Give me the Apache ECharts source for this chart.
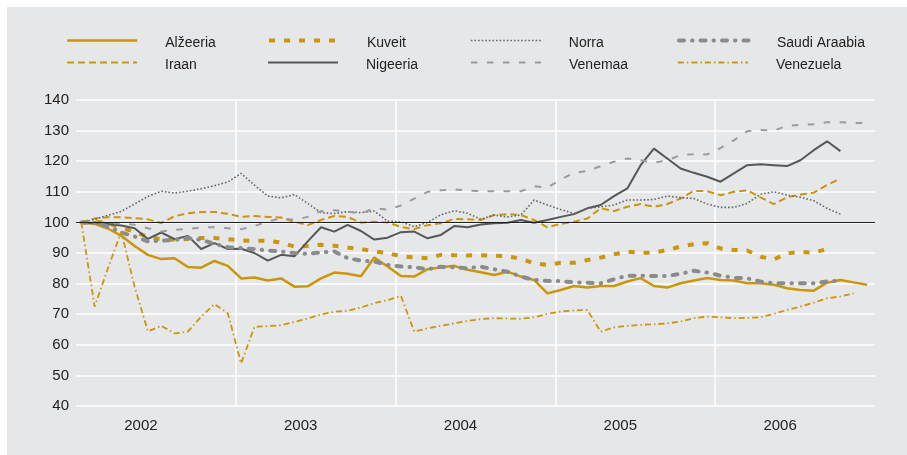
<!DOCTYPE html>
<html>
<head>
<meta charset="utf-8">
<script src="https://cdn.jsdelivr.net/npm/echarts@6/dist/echarts.min.js"></script>
<style>
body { margin: 0; background: #fff; }
#bg { position: absolute; left: 7px; top: 7px; width: 900px; height: 448px; background: #e6e7e9; }
#chart { position: absolute; left: 0; top: 0; width: 907px; height: 455px; }
</style>
</head>
<body>
<div id="bg"></div>
<div id="chart"></div>
<script>
// Data: monthly index, Jan 2002 = 100
// ----------
var years = ['2002', '2003', '2004', '2005', '2006']

var algeria = [100, 99.5, 98, 95.6, 92.3, 89.4, 88, 88.3, 85.4, 85.2, 87.4, 85.8,
    81.7, 82, 81, 81.7, 79, 79.1, 81.7, 83.6, 83.2, 82.4, 88.5, 85.6,
    82.5, 82.3, 84.7, 85.3, 85.8, 84.5, 83.7, 82.8, 83.9, 82.3, 81.2, 76.8,
    77.9, 79.2, 78.7, 79.2, 79.2, 80.7, 81.8, 79.2, 78.7, 80.1, 81, 81.8,
    81.2, 81, 80.1, 80.1, 79.6, 78.5, 77.9, 77.7, 80.3, 81.2, 80.4, 79.6]

var iran = [100, 101.3, 101.7, 101.7, 101.4, 101, 99.8, 102, 103, 103.4, 103.4, 102.8,
    101.8, 102.1, 101.8, 101.6, 100.2, 99.1, 100.8, 102.1, 101.8, 99.9, 100.2, 100,
    98.5, 97.8, 99.1, 99.7, 101.1, 101, 100.8, 102.4, 102.7, 102.4, 100.8, 98.4,
    99.5, 100.2, 101.3, 104.6, 103.7, 105.1, 106, 105.1, 106, 107.8, 110.3, 110.2,
    108.9, 110, 110.5, 108.2, 106, 108.2, 109.1, 109.7, 112.2, 114.3, null, null]

var kuwait = [100, 100.3, 99.8, 98.1, 97, 95.2, 94.5, 94.3, 94.6, 94.9, 94.9, 94.5,
    94.1, 94, 94, 93.4, 92.1, 92.3, 92.7, 92.4, 91.8, 91.3, 90.5, 90,
    88.9, 88.6, 88.3, 89.4, 89.3, 89.2, 89.3, 89.1, 88.9, 88.2, 86.6, 86.1,
    86.8, 86.8, 87.7, 88.5, 89.6, 90.4, 90.1, 90.1, 91, 92.1, 92.9, 93.2,
    91.5, 91, 90.8, 88.8, 87.9, 89.9, 90.4, 90.1, 91.3, null, null, null]

var nigeria = [100, 99.8, 99.5, 99, 98.1, 94.6, 96.7, 94.5, 95.6, 91.3, 93.2, 91.3,
    91.4, 90, 87.5, 89.4, 88.9, 93.8, 98.4, 97, 99.2, 97.2, 94.4, 95,
    96.8, 97, 94.8, 95.9, 98.8, 98.4, 99.3, 99.7, 99.9, 100.8, 99.9, 100.8,
    101.8, 102.7, 104.6, 105.7, 108.6, 111.1, 118.7, 124.1, 120.9, 117.6, 116.2, 114.9,
    113.3, 116, 118.7, 119, 118.7, 118.4, 120.3, 123.6, 126.5, 123.3, null, null]

var norway = [100, 101, 102.3, 103.6, 106, 108.5, 110.2, 109.6, 110.2, 111, 112, 113.2,
    116, 112.2, 108.6, 108, 109.1, 106.2, 103.2, 102.9, 103.5, 103.2, 103.7, 100.4,
    100.2, 98.6, 100, 102.5, 103.8, 103, 101, 102.4, 101.8, 102.4, 107.3, 105.7,
    104.2, 102.9, 104.6, 105.1, 105.7, 107.3, 107.3, 107.5, 108.6, 108.1, 107.8, 106,
    104.9, 104.9, 106.2, 109.2, 110, 108.9, 108.2, 107.1, 104.6, 102.7, null, null]

var russia = [100, 100, 99.8, 99.6, 99.2, 98.1, 97, 97.6, 97.8, 98.4, 98.4, 98.1,
    97.8, 98.8, 100.3, 101.3, 100.8, 101.8, 103.7, 104, 103.5, 102.9, 104.6, 104.2,
    105.5, 107.8, 110, 110.5, 110.8, 110.4, 110.2, 110.2, 110.2, 110.2, 111.8, 111.4,
    114, 116.2, 116.8, 118.4, 119.8, 120.9, 120.3, 119.5, 120.3, 122, 122.3, 122.2,
    124.3, 126.8, 129.8, 130.2, 130, 131.6, 131.9, 132.1, 132.7, 132.7, 132.5, 132.5]

var saudi = [100, 99.8, 98.7, 96.7, 95.4, 93.8, 94, 94.3, 94.9, 94.3, 93, 91.9,
    91.6, 91.3, 90.8, 90.5, 90, 89.7, 90.2, 90.5, 88.3, 87.5, 87.2, 86.1,
    85.6, 85.3, 84.7, 85.5, 85.3, 85, 85.5, 84.7, 83.9, 82.3, 81.2, 80.9,
    80.8, 80.4, 80.3, 80.1, 81.4, 82.6, 82.6, 82.5, 82.5, 83.2, 84.2, 83.6,
    82.6, 81.9, 81.7, 80.7, 80.1, 80.1, 80.1, 80.1, 80.7, 81, null, null]

var venezuela = [100, 72.5, 85, 97, 79, 64.4, 66.2, 63.7, 64.3, 69.2, 73.3, 70.3,
    53.9, 65.9, 66.1, 66.4, 67.5, 68.6, 69.9, 70.8, 71.1, 72.2, 73.6, 74.6,
    76, 64.3, 65.4, 66.2, 67, 67.8, 68.4, 68.7, 68.6, 68.5, 69, 70.1,
    70.9, 71.2, 71.4, 64.3, 65.7, 66.2, 66.5, 66.7, 67, 67.6, 68.7, 69.2,
    69, 68.7, 68.8, 69, 70.1, 71.4, 72.5, 73.8, 75.2, 75.8, 76.8, null]

var GOLD = '#c9960c'
var FONT = '"Liberation Sans", Arial, sans-serif'

// pair each value with its month position on the value axis (0..60)
function toPoints(values) {
    var out = []
    for (var i = 0; i < values.length; i++) {
        if (values[i] != null) out.push([i + 0.4, values[i]])
    }
    return out
}

function lineSeries(name, values, color, width, type, cap) {
    return {
        name: name,
        type: 'line',
        xAxisIndex: 0,
        data: toPoints(values),
        symbol: 'none',
        showSymbol: false,
        smooth: false,
        emphasis: { disabled: true },
        lineStyle: { color: color, width: width, type: type, cap: cap || 'butt' },
        itemStyle: { color: color }
    }
}

// one legend block per entry so the 2x4 column layout can be placed exactly
// (empty first rich line pushes the label a few px below the sample line)
function legendItem(name, left, top) {
    return {
        data: [name],
        left: left,
        top: top,
        padding: 0,
        itemWidth: 70,
        itemHeight: 14,
        selectedMode: false,
        itemStyle: { opacity: 0 },
        lineStyle: { width: 'inherit' },
        formatter: function (n) { return '{s|}\n{t|' + n + '}' },
        textStyle: {
            fontSize: 14,
            color: '#222',
            fontFamily: FONT,
            padding: [0, 0, 0, 23],
            rich: {
                s: { lineHeight: 6, height: 6 },
                t: { lineHeight: 17, fontSize: 14, color: '#222', fontFamily: FONT }
            }
        }
    }
}

var series = [
    lineSeries('Alžeeria', algeria, GOLD, 2.5, 'solid'),
    lineSeries('Iraan', iran, GOLD, 2, [7, 4]),
    lineSeries('Kuveit', kuwait, GOLD, 4, [6, 9]),
    lineSeries('Nigeeria', nigeria, '#55575a', 2, 'solid'),
    lineSeries('Norra', norway, '#66676a', 1.6, [1.6, 2]),
    lineSeries('Venemaa', russia, '#9a9b9d', 2, [6.5, 9.5]),
    lineSeries('Saudi Araabia', saudi, '#8a8b8d', 4, [5, 8, 0.5, 8], 'round'),
    lineSeries('Venezuela', venezuela, GOLD, 1.8, [6, 3, 1.5, 3])
]

// the 100 baseline
series[0].markLine = {
    silent: true,
    symbol: 'none',
    label: { show: false },
    lineStyle: { color: '#1e1e1e', width: 1.2, type: 'solid' },
    data: [{ yAxis: 100 }]
}

var option = {
    animation: false,
    backgroundColor: 'transparent',
    textStyle: { fontFamily: FONT },
    legend: [
        legendItem('Alžeeria', 66, 25),
        legendItem('Iraan', 66, 47),
        legendItem('Kuveit', 267, 25),
        legendItem('Nigeeria', 267, 47),
        legendItem('Norra', 470, 25),
        legendItem('Venemaa', 470, 47),
        legendItem('Saudi Araabia', 677, 25),
        legendItem('Venezuela', 677, 47)
    ],
    grid: { left: 76, right: 32, top: 100, bottom: 49 },
    xAxis: [{
        type: 'value',
        min: 0,
        max: 60,
        interval: 12,
        axisLine: { show: false },
        axisTick: { show: false },
        axisLabel: { show: false },
        splitLine: {
            show: true,
            showMinLine: false,
            showMaxLine: false,
            lineStyle: { color: '#ffffff', width: 1.5 }
        }
    }, {
        type: 'category',
        position: 'bottom',
        data: years,
        boundaryGap: true,
        axisLine: { show: false },
        axisTick: { show: false },
        splitLine: { show: false },
        axisLabel: { margin: 12, fontSize: 15, color: '#222', padding: [0, 30, 0, 0] }
    }],
    yAxis: {
        type: 'value',
        min: 40,
        max: 140,
        interval: 10,
        axisLine: { show: false },
        axisTick: { show: false },
        axisLabel: { margin: 7, fontSize: 15, color: '#222' },
        splitLine: { lineStyle: { color: '#ffffff', width: 1.5 } }
    },
    series: series
}

var myChart = echarts.init(document.getElementById('chart'))
myChart.setOption(option)
</script>
</body>
</html>
